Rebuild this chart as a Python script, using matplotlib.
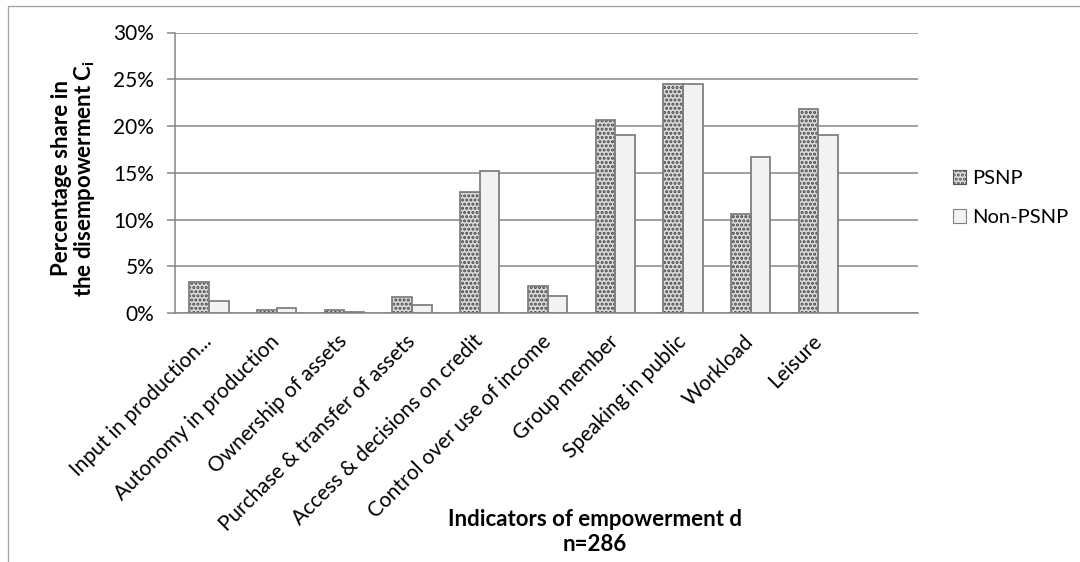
import matplotlib
matplotlib.use("Agg")
import matplotlib.pyplot as plt
from matplotlib.patches import Patch, Rectangle
import numpy as np

categories = ["Input in production...", "Autonomy in production", "Ownership of assets",
              "Purchase & transfer of assets", "Access & decisions on credit",
              "Control over use of income", "Group member", "Speaking in public",
              "Workload", "Leisure"]
psnp = [3.35, 0.3, 0.4, 1.7, 13.0, 2.9, 20.65, 24.5, 10.6, 21.8]
non_psnp = [1.3, 0.6, 0.15, 0.9, 15.2, 1.9, 19.0, 24.5, 16.7, 19.1]
yticks = [0, 5, 10, 15, 20, 25, 30]
ytick_labels = ["0%", "5%", "10%", "15%", "20%", "25%", "30%"]
series_names = ["PSNP", "Non-PSNP"]

plt.rcParams['font.family'] = ['Lato', 'DejaVu Sans']
plt.rcParams['hatch.linewidth'] = 1.5

FS = 15
FSB = 16
W, H = 1080, 562
fig = plt.figure(figsize=(W / 100, H / 100), dpi=100)
ax = fig.add_axes([175 / W, 1 - 313.3 / H, (918 - 175) / W, (313.3 - 32.5) / H])

x = np.arange(len(categories))
bw = 0.29
edge = '#808080'

# PSNP: dotted pattern
ax.bar(x - bw / 2, psnp, bw, color='#dcdcdc', hatch='....', edgecolor='#444444',
       linewidth=0, zorder=3)
ax.bar(x - bw / 2, psnp, bw, fill=False, edgecolor=edge, linewidth=1.3, zorder=4)
# Non-PSNP
ax.bar(x + bw / 2, non_psnp, bw, color='#f2f2f2', edgecolor=edge, linewidth=1.3, zorder=3)

ax.set_xlim(-0.5, 10.47)
ax.set_ylim(0, 30)
ax.set_yticks(yticks)
ax.set_yticklabels(ytick_labels, fontsize=FS)
ax.yaxis.grid(True, color='#868686', linewidth=1.1, zorder=0)
ax.set_axisbelow(True)

for s in ['top', 'right']:
    ax.spines[s].set_visible(False)
ax.spines['left'].set_color('#868686')
ax.spines['left'].set_linewidth(1.1)
ax.spines['bottom'].set_color('#868686')
ax.spines['bottom'].set_linewidth(1.1)
ax.tick_params(axis='y', direction='out', length=6, color='#868686', width=1.1, pad=9)
ax.tick_params(axis='x', length=0, pad=18)
ax.set_xticks(x)
ax.set_xticklabels(categories, rotation=45, ha='right', va='center',
                   rotation_mode='anchor', fontsize=FS)

fig.text(74 / W, 1 - 178 / H, "Percentage share in\nthe disempowerment C$_\\mathregular{i}$",
         rotation=90, ha='center', va='center', fontsize=FSB, fontweight='bold',
         linespacing=1.0, multialignment='center')
fig.text(595 / W, 1 - 532 / H, "Indicators of empowerment d\nn=286", ha='center',
         va='center', fontsize=FSB, fontweight='bold', linespacing=1.2)

handles = [Patch(facecolor='#dcdcdc', hatch='....', edgecolor='#555555', linewidth=0.8),
           Patch(facecolor='#f2f2f2', edgecolor=edge, linewidth=0.8)]
fig.legend(handles, series_names, loc='center left',
           bbox_to_anchor=(953 / W, 1 - 198 / H), frameon=False, fontsize=14.5,
           handlelength=0.65, handleheight=0.65, handletextpad=0.3, labelspacing=1.1,
           borderaxespad=0, borderpad=0)

# chart area border
fig.patches.append(Rectangle((8 / W, -0.1), 1.2, 1 - 6 / H + 0.1, transform=fig.transFigure,
                             fill=False, edgecolor='#a6a6a6', linewidth=1.0))

fig.savefig("out.png", dpi=100)
